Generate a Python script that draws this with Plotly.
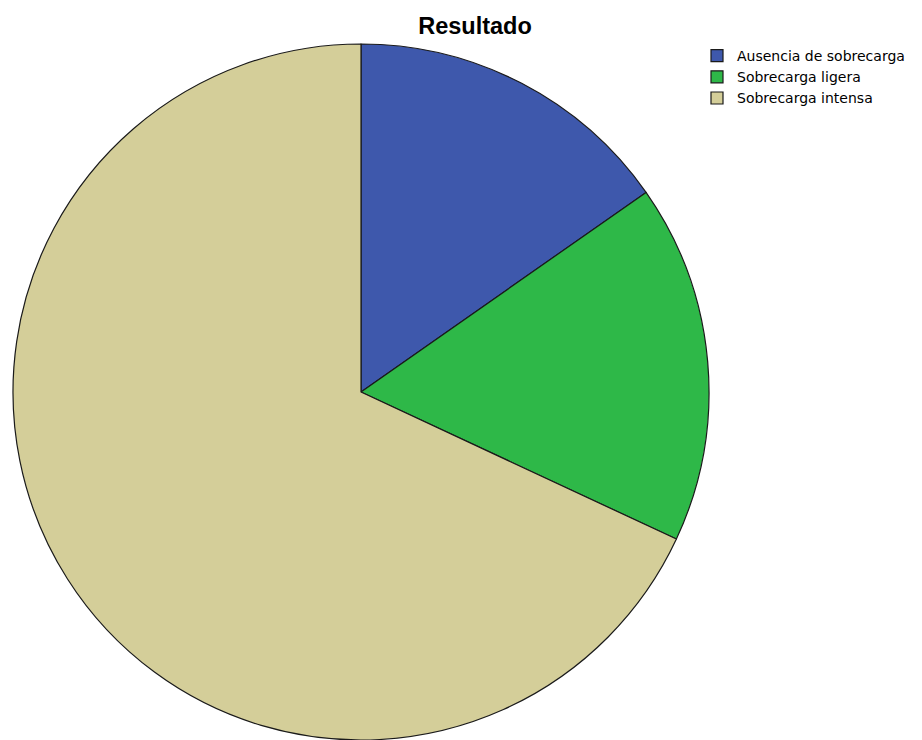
import plotly.graph_objects as go

# Resultado: distribución de los niveles de sobrecarga
categorias = ["Ausencia de sobrecarga", "Sobrecarga ligera", "Sobrecarga intensa"]
frecuencias = [11, 12, 49]
colores = ["#3E58AC", "#2EB848", "#D4CE99"]

W, H = 922, 740

fig = go.Figure(
    go.Pie(
        labels=categorias,
        values=frecuencias,
        sort=False,
        direction="clockwise",
        rotation=0,
        textinfo="none",
        hoverinfo="label+value+percent",
        marker=dict(colors=colores, line=dict(color="#1a1a1a", width=1.2)),
        domain=dict(x=[11 / W, 711 / W], y=[0, 1 - 44 / H]),
    )
)

fig.update_layout(
    width=W,
    height=H,
    margin=dict(l=0, r=0, t=0, b=0),
    paper_bgcolor="white",
    plot_bgcolor="white",
    font=dict(family="Liberation Sans, Arial, sans-serif", color="#000000"),
    title=dict(
        text="<b>Resultado</b>",
        x=475 / W,
        xanchor="center",
        y=1 - 26 / H,
        yanchor="middle",
        font=dict(size=23.5, color="#000000"),
    ),
    legend=dict(
        x=697 / W,
        xanchor="left",
        y=1 - 40 / H,
        yanchor="top",
        font=dict(family="DejaVu Sans, sans-serif", size=14, color="#000000"),
        bgcolor="rgba(0,0,0,0)",
        traceorder="normal",
        tracegroupgap=0,
    ),
    showlegend=True,
)

fig.write_html("out.html")
